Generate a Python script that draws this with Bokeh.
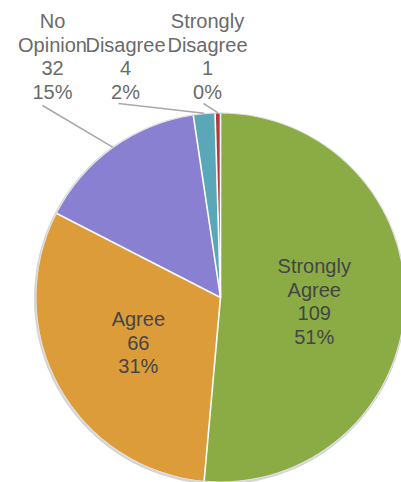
import math
from bokeh.plotting import figure
from bokeh.models import Range1d, ColumnDataSource
from bokeh.core.properties import value
from bokeh.embed import file_html
from bokeh.resources import INLINE

# ---- data ----
categories = ["Strongly Agree", "Agree", "No Opinion", "Disagree", "Strongly Disagree"]
counts = [109, 66, 32, 4, 1]
colors = ["#8BAB45", "#DD9C3A", "#8A80D1", "#5AA8B7", "#B03A3C"]

# ---- layout (screen pixels) ----
W, H = 401, 482
OX, OY = 0, 482          # screen offset -> data coords
def dx(sx): return sx - OX
def dy(sy): return OY - sy

CX, CY, R = dx(220), dy(297), 184
FONT = "Liberation Sans"
FS = "20px"
LINE_H = 23.5

inside = [True, True, False, False, False]
# outer label layout: (center x, leader start x, leader start y) in screen px
outer_layout = {2: (52, 42, 105), 3: (125, 118, 103), 4: (207, 203, 103)}
outer_last_line_y = 91

p = figure(width=W, height=H, output_backend="svg", toolbar_location=None,
           x_range=Range1d(0, W), y_range=Range1d(0, H),
           min_border=0, outline_line_color=None)
p.axis.visible = False
p.grid.visible = False
p.background_fill_color = "white"
p.border_fill_color = "white"

total = sum(counts)
fracs = [c / total for c in counts]
starts, ends = [], []
acc = 0.0
for f in fracs:
    starts.append(acc)
    acc += f
    ends.append(acc)

# shadow ring
p.scatter(x=[CX - 0.5], y=[CY - 1.0], size=2 * (R + 2.0), marker="circle",
          fill_color="#d4d4d4", line_color=None)
p.scatter(x=[CX], y=[CY], size=2 * (R + 0.8), marker="circle",
          fill_color="#e8e8e8", line_color=None)

src = ColumnDataSource(dict(
    start=[math.pi / 2 - s * 2 * math.pi for s in starts],
    end=[math.pi / 2 - e * 2 * math.pi for e in ends],
    color=colors,
))
p.wedge(x=CX, y=CY, radius=R, start_angle="start", end_angle="end",
        direction="clock", fill_color="color", line_color=None, source=src)

# white separators
bx0, by0, bx1, by1 = [], [], [], []
for s in starts:
    a = s * 2 * math.pi
    bx0.append(CX); by0.append(CY)
    bx1.append(CX + R * math.sin(a)); by1.append(CY + R * math.cos(a))
p.segment(x0=bx0, y0=by0, x1=bx1, y1=by1, line_color="white", line_width=1.6)

# labels
tx, ty, tt, tc = [], [], [], []
lx0, ly0, lx1, ly1 = [], [], [], []
for i, (cat, c, f) in enumerate(zip(categories, counts, fracs)):
    lines = cat.split(" ") + [str(c), f"{round(f * 100)}%"]
    mid = (starts[i] + ends[i]) / 2 * 2 * math.pi
    if inside[i]:
        ax = CX + 0.51 * R * math.sin(mid)
        ay = CY + 0.51 * R * math.cos(mid)
        n = len(lines)
        for k, ln in enumerate(lines):
            tx.append(ax)
            ty.append(ay + ((n - 1) / 2 - k) * LINE_H)
            tt.append(ln); tc.append("#454545")
    else:
        cxs, lsx, lsy = outer_layout[i]
        n = len(lines)
        for k, ln in enumerate(lines):
            tx.append(dx(cxs))
            ty.append(dy(outer_last_line_y - (n - 1 - k) * LINE_H))
            tt.append(ln); tc.append("#6a6a6a")
        lx0.append(dx(lsx)); ly0.append(dy(lsy))
        lx1.append(CX + (R + 1) * math.sin(mid)); ly1.append(CY + (R + 1) * math.cos(mid))

p.segment(x0=lx0, y0=ly0, x1=lx1, y1=ly1, line_color="#a8a8a8", line_width=1.5)
p.text(x=tx, y=ty, text=tt, text_color=tc, text_font=value(FONT),
       text_font_size=FS, text_align="center", text_baseline="middle")

open("out.html", "w").write(file_html(p, INLINE))
